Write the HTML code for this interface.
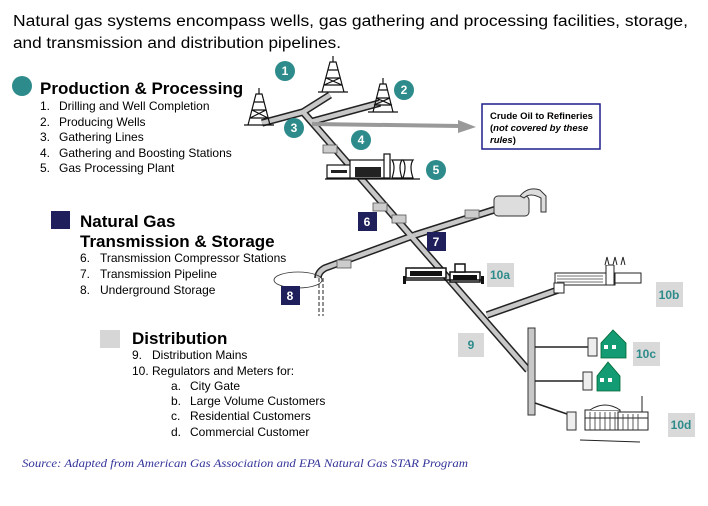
<!DOCTYPE html>
<html><head><meta charset="utf-8"><style>
html,body{margin:0;padding:0;background:#fff;}
svg{display:block;font-family:"Liberation Sans",Arial,sans-serif;}
</style></head><body>
<svg width="708" height="506" viewBox="0 0 708 506" xmlns="http://www.w3.org/2000/svg">
<text x="13" y="26" font-size="15.5" fill="#000" textLength="675" lengthAdjust="spacingAndGlyphs">Natural gas systems encompass wells, gas gathering and processing facilities, storage,</text>
<text x="13" y="48" font-size="15.5" fill="#000" textLength="328" lengthAdjust="spacingAndGlyphs">and transmission and distribution pipelines.</text>

<circle cx="22" cy="86" r="10" fill="#2e8b8b"/>
<text x="40" y="94" font-size="17" font-weight="bold">Production &amp; Processing</text>
<g font-size="12" fill="#000">
<text x="40" y="110">1.</text><text x="59" y="110">Drilling and Well Completion</text>
<text x="40" y="126">2.</text><text x="59" y="126">Producing Wells</text>
<text x="40" y="141">3.</text><text x="59" y="141">Gathering Lines</text>
<text x="40" y="157">4.</text><text x="59" y="157">Gathering and Boosting Stations</text>
<text x="40" y="172">5.</text><text x="59" y="172">Gas Processing Plant</text>
</g>

<rect x="51" y="211" width="19" height="18" fill="#1f1f5c"/>
<text x="80" y="227" font-size="17" font-weight="bold">Natural Gas</text>
<text x="80" y="247" font-size="17" font-weight="bold">Transmission &amp; Storage</text>
<g font-size="12">
<text x="80" y="262">6.</text><text x="100" y="262">Transmission Compressor Stations</text>
<text x="80" y="278">7.</text><text x="100" y="278">Transmission Pipeline</text>
<text x="80" y="294">8.</text><text x="100" y="294">Underground Storage</text>
</g>

<rect x="100" y="330" width="20" height="18" fill="#d6d6d6"/>
<text x="132" y="344" font-size="17" font-weight="bold">Distribution</text>
<g font-size="12">
<text x="132" y="359">9.</text><text x="152" y="359">Distribution Mains</text>
<text x="132" y="375">10.</text><text x="152" y="375">Regulators and Meters for:</text>
<text x="171" y="390">a.</text><text x="190" y="390">City Gate</text>
<text x="171" y="405">b.</text><text x="190" y="405">Large Volume Customers</text>
<text x="171" y="420">c.</text><text x="190" y="420">Residential Customers</text>
<text x="171" y="436">d.</text><text x="190" y="436">Commercial Customer</text>
</g>

<text x="22" y="467" font-family="Liberation Serif,serif" font-style="italic" font-size="12" fill="#333399" textLength="446" lengthAdjust="spacingAndGlyphs">Source:  Adapted from American Gas Association and EPA Natural Gas STAR Program</text>

<g stroke="#222" stroke-width="7.5" stroke-linecap="butt" fill="none">
<path d="M262 123 L303 112 L330 95"/>
<path d="M310 122 L380 103"/>
<path d="M303 112 L528 370"/>
<path d="M415 235 L500 208"/>
<path d="M415 235 L325 268 Q318 272 318 278"/>
<path d="M487 315 L558 290"/>
</g>
<g stroke="#c8c8c8" stroke-width="4.5" fill="none">
<path d="M262 123 L303 112 L330 95"/>
<path d="M310 122 L380 103"/>
<path d="M303 112 L528 370"/>
<path d="M415 235 L500 208"/>
<path d="M415 235 L325 268 Q318 272 318 278"/>
<path d="M487 315 L558 290"/>
</g>
<path d="M312 124 L460 126" stroke="#999" stroke-width="4"/>
<polygon points="458,120 476,127 458,133" fill="#999"/>
<rect x="482" y="104" width="118" height="45" fill="#fff" stroke="#1f1f8c" stroke-width="1.5"/>
<text x="490" y="119" font-size="9.5" font-weight="bold">Crude Oil to Refineries</text>
<text x="490" y="131" font-size="9.5" font-weight="bold">(<tspan font-style="italic">not covered by these</tspan></text>
<text x="490" y="143" font-size="9.5" font-weight="bold"><tspan font-style="italic">rules</tspan>)</text>

<g stroke="#111" stroke-width="1.2" fill="none">
<path d="M248 125 L256 94 L262 94 L270 125 M244 125 L274 125 M252 110 L266 110 M250 118 L268 118 M254 102 L264 102 M259 88 L259 94 M252 110 L268 118 M266 110 L250 118"/>
<path d="M322 92 L330 62 L336 62 L344 92 M318 92 L348 92 M326 78 L340 78 M324 85 L342 85 M328 70 L338 70 M333 56 L333 62 M326 78 L342 85 M340 78 L324 85"/>
<path d="M373 112 L380 84 L386 84 L393 112 M368 112 L398 112 M376 98 L390 98 M374 105 L392 105 M378 90 L388 90 M383 78 L383 84 M376 98 L392 105 M390 98 L374 105"/>
</g>
<g fill="#ccc" stroke="#555" stroke-width="0.8">
<rect x="323" y="145" width="14" height="8"/>
<rect x="373" y="203" width="14" height="8"/>
<rect x="392" y="215" width="14" height="8"/>
<rect x="465" y="210" width="14" height="8"/>
<rect x="337" y="260" width="14" height="8"/>
</g>
<g stroke="#111" stroke-width="1.2" fill="#fff">
<rect x="327" y="165" width="25" height="13"/>
<rect x="350" y="160" width="40" height="18"/>
<rect x="384" y="154" width="6" height="24"/>
<path d="M392 178 Q396 166 392 160 L402 160 Q398 166 402 178 Z"/>
<path d="M403 178 Q407 166 403 160 L413 160 Q409 166 413 178 Z"/>
<line x1="325" y1="179" x2="420" y2="179"/>
</g>
<g fill="#222"><rect x="355" y="167" width="26" height="10"/><rect x="331" y="170" width="16" height="3"/></g>
<g stroke="#333" stroke-width="1" fill="#ddd">
<rect x="494" y="196" width="35" height="20" rx="4"/>
<path d="M520 196 Q528 186 540 190 L546 196 L546 212 L541 212 L541 198 Q530 192 524 198 Z"/>
</g>
<ellipse cx="298" cy="280" rx="24" ry="8" fill="none" stroke="#333" stroke-width="0.8"/>
<path d="M319 278 L319 316 M323 278 L323 316" stroke="#222" stroke-dasharray="4,2"/>
<g stroke="#111" stroke-width="1.5" fill="#fff">
<rect x="406" y="268" width="40" height="10"/>
<rect x="450" y="272" width="30" height="10"/>
<rect x="455" y="264" width="10" height="8"/>
<line x1="404" y1="280" x2="484" y2="280"/>
</g>
<g fill="#111"><rect x="410" y="271" width="32" height="5"/><rect x="453" y="275" width="24" height="5"/><rect x="403" y="276" width="3" height="8"/><rect x="481" y="276" width="3" height="8"/></g>
<g stroke="#222" stroke-width="1" fill="#fff">
<rect x="555" y="273" width="60" height="12"/>
<rect x="606" y="265" width="8" height="20"/>
<path d="M605 265 L607 257 L609 265 M613 265 L615 257 L617 265 M621 265 L623 257 L625 265"/>
<rect x="615" y="273" width="26" height="10"/>
<rect x="554" y="283" width="10" height="10"/>
</g>
<path d="M557 276 H603 M557 279 H603 M557 282 H603" stroke="#444" stroke-width="0.8"/>
<rect x="528" y="328" width="7" height="87" fill="#c8c8c8" stroke="#333" stroke-width="1"/>
<g stroke="#222" stroke-width="1.5">
<line x1="535" y1="347" x2="590" y2="347"/>
<line x1="535" y1="381" x2="585" y2="381"/>
<line x1="535" y1="403" x2="567" y2="414"/>
</g>
<g stroke="#333" stroke-width="1" fill="#eee">
<rect x="588" y="338" width="9" height="18"/>
<rect x="583" y="372" width="9" height="18"/>
<rect x="567" y="412" width="9" height="18"/>
</g>
<g fill="#139c74" stroke="#063" stroke-width="0.8">
<polygon points="601,343 613,330 626,343 626,358 601,358"/>
<polygon points="597,376 608,362 620,376 620,391 597,391"/>
</g>
<g fill="#fff"><rect x="604" y="345" width="4" height="4"/><rect x="612" y="345" width="4" height="4"/><rect x="600" y="378" width="4" height="4"/><rect x="608" y="378" width="4" height="4"/></g>
<g stroke="#222" stroke-width="1" fill="#fff">
<rect x="585" y="410" width="35" height="20"/>
<rect x="618" y="412" width="30" height="18"/>
<path d="M590 410 Q605 400 620 410"/>
<line x1="642" y1="396" x2="642" y2="412"/>
<line x1="585" y1="418" x2="648" y2="418"/>
<path d="M580 440 L640 442"/>
</g>
<path d="M590 412 V430 M595 412 V430 M600 412 V430 M605 412 V430 M610 412 V430 M615 412 V430 M623 414 V430 M628 414 V430 M633 414 V430 M638 414 V430" stroke="#333" stroke-width="0.8"/>

<g fill="#2e8b8b"><circle cx="285" cy="71" r="10"/><circle cx="404" cy="90" r="10"/><circle cx="294" cy="128" r="10"/><circle cx="361" cy="140" r="10"/><circle cx="436" cy="170" r="10"/></g>
<g fill="#fff" font-size="12" font-weight="bold" text-anchor="middle">
<text x="285" y="75">1</text><text x="404" y="94">2</text><text x="294" y="132">3</text><text x="361" y="144">4</text><text x="436" y="174">5</text>
</g>
<g fill="#1f1f5c"><rect x="358" y="212" width="19" height="19"/><rect x="427" y="232" width="19" height="19"/><rect x="281" y="286" width="19" height="19"/></g>
<g fill="#fff" font-size="12" font-weight="bold" text-anchor="middle">
<text x="367" y="226">6</text><text x="436" y="246">7</text><text x="290" y="300">8</text>
</g>
<g fill="#d9d9d9"><rect x="487" y="263" width="27" height="24"/><rect x="656" y="282" width="27" height="25"/><rect x="458" y="333" width="26" height="24"/><rect x="633" y="342" width="27" height="24"/><rect x="668" y="413" width="27" height="24"/></g>
<g fill="#2e8b8b" font-size="12" font-weight="bold" text-anchor="middle">
<text x="500" y="279">10a</text><text x="669" y="299">10b</text><text x="471" y="349">9</text><text x="646" y="358">10c</text><text x="681" y="429">10d</text>
</g>
</svg>
</body></html>
